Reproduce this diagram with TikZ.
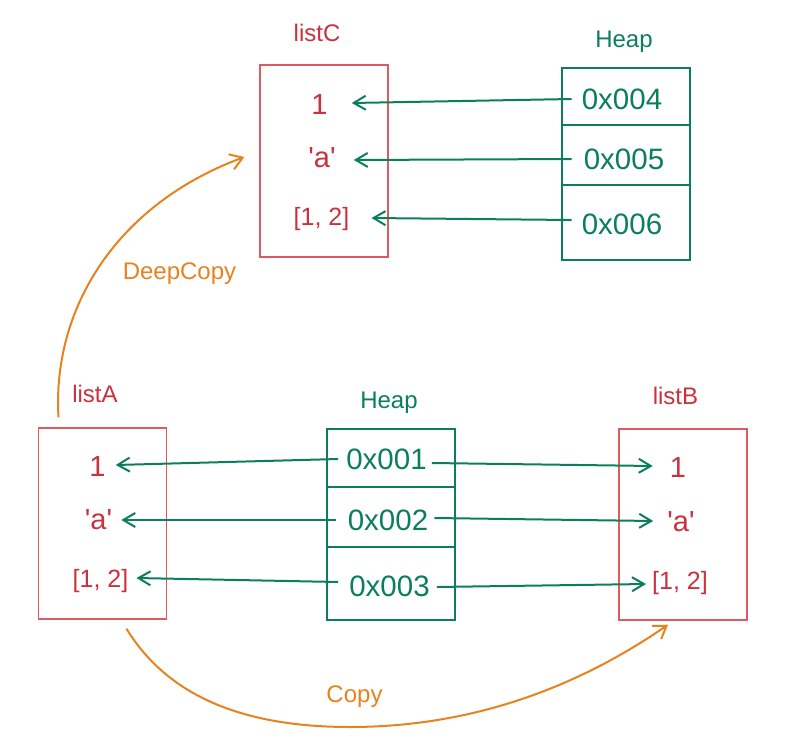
\documentclass[tikz,border=0pt]{standalone}
\usepackage{fontspec}
\setmainfont{Liberation Sans}
\usetikzlibrary{arrows.meta}
\definecolor{lred}{HTML}{C9313E}
\definecolor{bred}{HTML}{DE5A62}
\definecolor{hgreen}{HTML}{0B7F5C}
\definecolor{corange}{HTML}{E8821F}
\newcommand{\sq}{\textquotesingle}
\tikzset{
  listbox/.style={draw=bred, line width=1.4pt, minimum width=128pt, inner sep=0pt},
  heapcell/.style={draw=hgreen, line width=2.2pt, minimum width=128pt, inner sep=0pt},
  txt/.style={inner sep=0pt, text depth=0pt},
  val/.style={txt, text height=20.8pt, text=lred, font=\fontsize{29}{31}\selectfont},
  lval/.style={txt, text height=18pt, text=lred, font=\fontsize{25}{27}\selectfont},
  addr/.style={txt, text height=21pt, text=hgreen, font=\fontsize{29.5}{32}\selectfont},
  title/.style={txt, text height=17.3pt, font=\fontsize{24}{26}\selectfont},
  ptr/.style={draw=hgreen, line width=2pt, -{Straight Barb[length=12pt,width=14pt,line width=2pt]}},
  copyarc/.style={draw=corange, line width=2pt, -{Straight Barb[length=12pt,width=16pt,line width=2pt]}}
}
\begin{document}
\begin{tikzpicture}[x=1pt,y=-1pt]
\useasboundingbox (0,0) rectangle (789,750);
% ---------- listC and top heap ----------
\node[listbox, minimum height=192pt] (Cbox) at (324,161) {};
\node[title, text=lred] (Clab) at (317,32.5) {listC};
\node[val] (c1) at (319.5,104.5) {1};
\node[val] (c2) at (322,157) {\sq a\sq};
\node[lval] (c3) at (321.5,216.5) {[1, 2]};
\node[title, text=hgreen] (H2lab) at (624,38.5) {Heap};
\node[heapcell, minimum height=57pt] (cell4) at (626,96.5) {};
\node[heapcell, minimum height=60pt] (cell5) at (626,155) {};
\node[heapcell, minimum height=75pt] (cell6) at (626,222.5) {};
\node[addr] (h4) at (622,99) {0x004};
\node[addr] (h5) at (624,159) {0x005};
\node[addr] (h6) at (622,224) {0x006};
\draw[ptr] ([xshift=-10pt]h4.west) -- ([xshift=24pt,yshift=1.5pt]c1.east);
\draw[ptr] ([xshift=-12pt]h5.west) -- ([xshift=18pt,yshift=-3pt]c2.east);
\draw[ptr] ([xshift=-10pt,yshift=4pt]h6.west) -- ([xshift=22pt,yshift=-1.5pt]c3.east);
% ---------- listA, bottom heap, listB ----------
\node[listbox, minimum height=191pt] (Abox) at (102.5,523.5) {};
\node[title, text=lred] (Alab) at (95,394) {listA};
\node[val] (a1) at (97.5,466) {1};
\node[val] (a2) at (98.5,519) {\sq a\sq};
\node[lval] (a3) at (100.5,578) {[1, 2]};
\node[title, text=hgreen] (H1lab) at (389,399.5) {Heap};
\node[heapcell, minimum height=58pt] (cell1) at (391,458) {};
\node[heapcell, minimum height=60pt] (cell2) at (391,517) {};
\node[heapcell, minimum height=73pt] (cell3) at (391,583.5) {};
\node[addr] (h1) at (386.5,459) {0x001};
\node[addr] (h2) at (388,520) {0x002};
\node[addr] (h3) at (389.5,586) {0x003};
\node[listbox, minimum height=191pt] (Bbox) at (683,524.5) {};
\node[title, text=lred] (Blab) at (675.5,396) {listB};
\node[val] (b1) at (678,467.5) {1};
\node[val] (b2) at (681,521) {\sq a\sq};
\node[lval] (b3) at (680,580) {[1, 2]};
\draw[ptr] ([xshift=-8pt]h1.west) -- ([xshift=10pt,yshift=1pt]a1.east);
\draw[ptr] ([xshift=-12pt]h2.west) -- ([xshift=9pt,yshift=-1pt]a2.east);
\draw[ptr] ([xshift=-11pt,yshift=4pt]h3.west) -- ([xshift=8pt]a3.east);
\draw[ptr] ([xshift=5pt,yshift=-4pt]h1.east) -- ([xshift=-17pt,yshift=1.5pt]b1.west);
\draw[ptr] ([xshift=6pt,yshift=2pt]h2.east) -- ([xshift=-14pt]b2.west);
\draw[ptr] ([xshift=7pt,yshift=-1pt]h3.east) -- ([xshift=-6pt,yshift=-4pt]b3.west);
% ---------- copy arcs ----------
\coordinate (dcs) at ([xshift=-44pt,yshift=10pt]Abox.north);
\coordinate (dce) at ([xshift=-15pt,yshift=4pt]Cbox.west);
\draw[copyarc] (dcs) .. controls (52,310) and (115,205) .. (dce);
\node[title, text=corange] (dclab) at (179.5,271) {DeepCopy};
\coordinate (cs) at ([xshift=24pt,yshift=-9pt]Abox.south);
\coordinate (cm) at (350,727);
\coordinate (ce) at ([xshift=-15pt,yshift=-4pt]Bbox.south);
\draw[copyarc] (cs) .. controls (170,700) and (250,727) .. (cm) .. controls (480,727) and (585,682) .. (ce);
\node[title, text=corange] (clab) at (354.5,693.5) {Copy};
\end{tikzpicture}
\end{document}
